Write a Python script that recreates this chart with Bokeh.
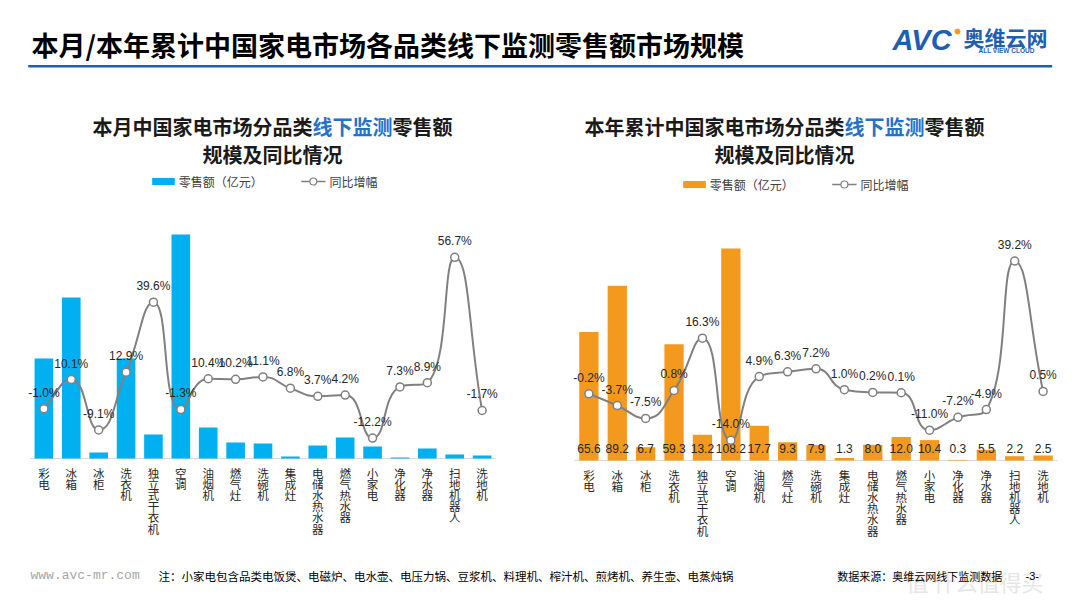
import math
from bokeh.plotting import figure
from bokeh.models import Range1d, FactorRange
from bokeh.layouts import column, row
from bokeh.embed import file_html
from bokeh.resources import INLINE
from bokeh.core.properties import value

CJK = "Noto Sans CJK SC"
NUM = "Liberation Sans"

# ---------------- data ----------------
categories = ["彩电", "冰箱", "冰柜", "洗衣机", "独立式干衣机", "空调", "油烟机", "燃气灶",
              "洗碗机", "集成灶", "电储水热水器", "燃气热水器", "小家电", "净化器", "净水器",
              "扫地机器人", "洗地机"]
month_sales = [10.0, 16.1, 0.6, 10.0, 2.4, 22.4, 3.1, 1.6, 1.5, 0.2, 1.3, 2.1, 1.2, 0.1, 1.0, 0.4, 0.3]
month_yoy = [-1.0, 10.1, -9.1, 12.9, 39.6, -1.3, 10.4, 10.2, 11.1, 6.8, 3.7, 4.2, -12.2, 7.3, 8.9, 56.7, -1.7]
ytd_sales = [65.6, 89.2, 6.7, 59.3, 13.2, 108.2, 17.7, 9.3, 7.9, 1.3, 8.0, 12.0, 10.4, 0.3, 5.5, 2.2, 2.5]
ytd_yoy = [-0.2, -3.7, -7.5, 0.8, 16.3, -14.0, 4.9, 6.3, 7.2, 1.0, 0.2, 0.1, -11.0, -7.2, -4.9, 39.2, 0.5]

main_title = "本月/本年累计中国家电市场各品类线下监测零售额市场规模"
left_title = ["本月中国家电市场分品类", "线下监测", "零售额"]
right_title = ["本年累计中国家电市场分品类", "线下监测", "零售额"]
sub_title2 = "规模及同比情况"
legend_bar = "零售额（亿元）"
legend_line = "同比增幅"
footer_url = "www.avc-mr.com"
footer_note = "注：小家电包含品类电饭煲、电磁炉、电水壶、电压力锅、豆浆机、料理机、榨汁机、煎烤机、养生壶、电蒸炖锅"
footer_src = "数据来源：奥维云网线下监测数据"

BLUE_BAR = "#00B0F0"
ORANGE_BAR = "#F39A1E"
LINE_GRAY = "#808080"
BRAND = "#1F5FAF"
TXT = "#262626"


def canvas(w, h, x0, y0, bl=0, br=0):
    p = figure(width=w, height=h, x_range=Range1d(x0 + bl, x0 + w - br), y_range=Range1d(y0 + h, y0),
               output_backend="svg", toolbar_location=None,
               x_axis_location=None, y_axis_location=None, min_border=0,
               min_border_left=bl, min_border_right=br)
    p.grid.visible = False
    p.outline_line_color = None
    p.background_fill_color = "white"
    p.border_fill_color = "white"
    return p


def txt(p, x, y, s, size, color=TXT, font=CJK, style="normal", align="left", baseline="middle"):
    p.text(x=[x], y=[y], text=[s], text_font=value(font), text_font_size=size,
           text_font_style=style, text_color=color, text_align=align, text_baseline=baseline)


# ---------------- header ----------------
header = canvas(1080, 78, 0, 0)
txt(header, 31, 44, main_title, "27px", color="#000000", style="bold")
header.segment(x0=[27.7], y0=[65.7], x1=[1051.7], y1=[65.7], line_color=BRAND, line_width=2.5)
txt(header, 892, 39, "AVC", "29px", color=BRAND, font="Liberation Sans", style="bold italic")
header.scatter(x=[957], y=[31], size=5, color="#F39A1E", marker="circle")
txt(header, 963, 36, "奥维云网", "21px", color=BRAND, style="bold")
txt(header, 978, 49.5, "ALL VIEW CLOUD", "6.5px", color=BRAND, font="Liberation Sans", style="bold")


# ---------------- subtitle blocks ----------------
def subtitle(parts, x0, center, bar_color, leg_y, leg_x, bl, br):
    p = canvas(540, 117, x0, 78, bl, br)
    n = sum(len(s) for s in parts)
    fs = 20
    x = center - n * fs / 2
    cols = ["#1A1A1A", "#2472C8", "#1A1A1A"]
    for s, c in zip(parts, cols):
        txt(p, x, 126, s, f"{fs}px", color=c, style="bold")
        x += len(s) * fs
    txt(p, center, 153.5, sub_title2, f"{fs}px", color="#1A1A1A", style="bold", align="center")
    # legend
    p.rect(x=[leg_x + 11.3], y=[leg_y], width=22.6, height=7, fill_color=bar_color, line_color=None)
    txt(p, leg_x + 26.6, leg_y, legend_bar, "12px", color="#404040")
    lx = leg_x + 149
    p.segment(x0=[lx], y0=[leg_y], x1=[lx + 24.3], y1=[leg_y], line_color=LINE_GRAY, line_width=1.5)
    p.scatter(x=[lx + 12.2], y=[leg_y], size=7, marker="circle", fill_color="white",
              line_color=LINE_GRAY, line_width=1.2)
    txt(p, lx + 28.3, leg_y, legend_line, "12px", color="#404040")
    return p


# ---------------- smooth line (echarts-like control points) ----------------
def smooth_ctrl(ys, sx, sy, s=0.5):
    n = len(ys)
    P = [(i * sx, ys[i] * sy) for i in range(n)]
    outs, ins = [], []

    def clamp(v, a, b):
        return max(min(v, max(a, b)), min(a, b))

    for i in range(n):
        x, y = P[i]
        px, py = P[i - 1] if i > 0 else P[i]
        nx, ny = P[i + 1] if i < n - 1 else P[i]
        vx, vy = nx - px, ny - py
        lp = math.hypot(x - px, y - py)
        ln = math.hypot(nx - x, ny - y)
        if lp + ln == 0:
            outs.append((x, y)); ins.append((x, y)); continue
        r = ln / (lp + ln)
        ox = clamp(x + vx * s * r, x, nx)
        oy = clamp(y + vy * s * r, y, ny)
        if ln > 0 and lp > 0:
            wx, wy = ox - x, oy - y
            ix = clamp(x - wx * lp / ln, px, x)
            iy = clamp(y - wy * lp / ln, py, y)
            wx, wy = x - ix, y - iy
            ox = x + wx * ln / lp
            oy = y + wy * ln / lp
        elif lp == 0:
            ix, iy = x, y
        else:
            ix = clamp(x - vx * s * (1 - r), px, x)
            iy = clamp(y - vy * s * (1 - r), py, y)
            ox, oy = x, y
        outs.append((ox, oy)); ins.append((ix, iy))
    res = dict(x0=[], y0=[], x1=[], y1=[], cx0=[], cy0=[], cx1=[], cy1=[])
    for i in range(n - 1):
        res["x0"].append(P[i][0] / sx + 0.5); res["y0"].append(P[i][1] / sy)
        res["x1"].append(P[i + 1][0] / sx + 0.5); res["y1"].append(P[i + 1][1] / sy)
        res["cx0"].append(outs[i][0] / sx + 0.5); res["cy0"].append(outs[i][1] / sy)
        res["cx1"].append(ins[i + 1][0] / sx + 0.5); res["cy1"].append(ins[i + 1][1] / sy)
    return res


# ---------------- charts ----------------
def chart(sales, yoy, color, bl, br, base_px, val_px, pct_px, show_vals):
    W, H = 540, 365
    below = H - base_px
    n = len(categories)
    fw = W - bl - br
    band = fw / (n + 1)
    p = figure(width=W, height=H,
               x_range=FactorRange(factors=categories, range_padding=0.5, range_padding_units="absolute"),
               y_range=Range1d(-below / val_px, base_px / val_px),
               output_backend="svg", toolbar_location=None,
               x_axis_location=None, y_axis_location=None, min_border=0,
               min_border_left=bl, min_border_right=br, min_border_top=0, min_border_bottom=0)
    p.extra_y_ranges = {"pct": Range1d(-20 - below / pct_px, -20 + base_px / pct_px)}
    p.grid.visible = False
    p.outline_line_color = None
    p.background_fill_color = "white"
    p.segment(x0=[0], y0=[0], x1=[n], y1=[0], line_color="#D9D9D9", line_width=1)
    p.vbar(x=categories, top=sales, width=0.68, fill_color=color, line_color=None)
    if show_vals:
        p.text(x=categories, y=[0] * n, text=[f"{v:.1f}" for v in sales],
               y_offset=-12, text_font=value(NUM), text_font_size="12px", text_color=TXT,
               text_align="center", text_baseline="middle")
    cp = smooth_ctrl(yoy, band, pct_px)
    p.bezier(line_color=LINE_GRAY, line_width=2, y_range_name="pct", **cp)
    p.scatter(x=categories, y=yoy, size=8, marker="circle", fill_color="white",
              line_color=LINE_GRAY, line_width=1.5, y_range_name="pct")
    p.text(x=categories, y=yoy, text=[f"{v:.1f}%" for v in yoy], y_offset=-16,
           text_font=value(NUM), text_font_size="12px", text_color=TXT,
           text_align="center", text_baseline="middle", y_range_name="pct")
    # vertical category labels
    p.text(x=categories, y=[0] * n, text=["\n".join(c) for c in categories],
           y_offset=6, text_font=value(CJK), text_font_size="11.5px", text_color=TXT,
           text_align="center", text_baseline="top", text_line_height=0.7)
    return p


left_chart = chart(month_sales, month_yoy, BLUE_BAR, 16, 31, 263, 10.0, 2.623, False)
right_chart = chart(ytd_sales, ytd_yoy, ORANGE_BAR, 20, 9, 265, 1.96, 3.37, True)

sub_left = subtitle(left_title, 0, 272, BLUE_BAR, 181, 151.7, 16, 31)
sub_right = subtitle(right_title, 540, 784, ORANGE_BAR, 184, 682.7, 20, 9)

# ---------------- footer ----------------
footer = canvas(1080, 48, 0, 560)
txt(footer, 906, 580, "值 什么值得买", "22px", color="#E6E6E6")
txt(footer, 30, 575, footer_url, "13px", color="#A6A6A6", font="Liberation Mono")
txt(footer, 158, 575, footer_note, "11.5px", color="#000000")
txt(footer, 836.7, 575, footer_src, "11px", color="#000000")
txt(footer, 1025, 575, "-3-", "11px", color="#000000", font=NUM)

layout = column(header, row(column(sub_left, left_chart), column(sub_right, right_chart)), footer)

open("out.html", "w").write(file_html(layout, INLINE))
